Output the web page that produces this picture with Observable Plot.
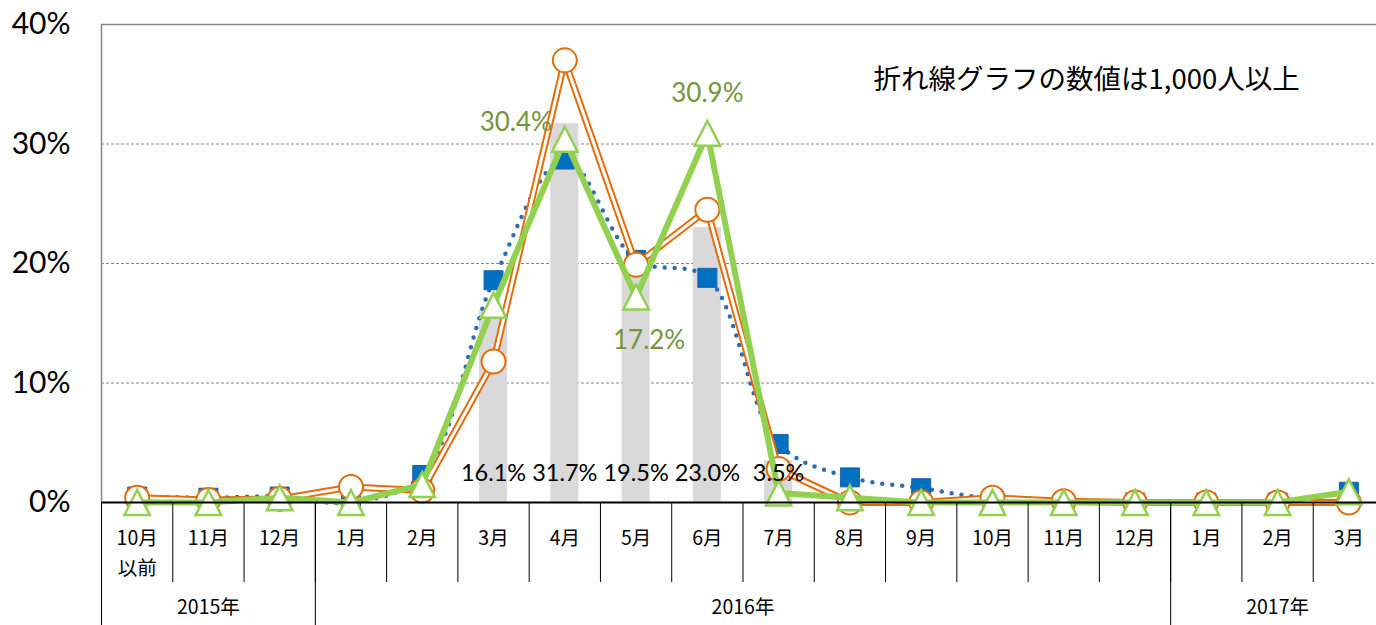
<!DOCTYPE html>
<html>
<head>
<meta charset="utf-8">
<script src="https://cdn.jsdelivr.net/npm/d3@7"></script>
<script src="https://cdn.jsdelivr.net/npm/@observablehq/plot@0.6"></script>
<style>
  html, body { margin: 0; padding: 0; background: #fff; }
  #chart svg { display: block; }
</style>
</head>
<body>
<div id="chart"></div>
<script>
// ---- data ----
const months = ["10月\n以前","11月","12月","1月","2月","3月","4月","5月","6月","7月","8月","9月","10月","11月","12月","1月","2月","3月"];
const years = ["2015年","2016年","2017年"];
const yearFirstIndex = [0, 3, 15];
const yearLastIndex = [2, 14, 17];
// blue squares (dotted smooth line)
const squareSeries = [0.5, 0.4, 0.5, 0.0, 2.3, 18.6, 28.7, 20.3, 18.8, 4.9, 2.1, 1.2, 0.3, 0.0, 0.0, 0.0, 0.0, 0.9];
// orange circles (double line)
const circleSeries = [0.4, 0.2, 0.3, 1.3, 1.0, 11.8, 37.0, 19.9, 24.5, 2.8, 0.0, 0.0, 0.4, 0.1, 0.0, 0.0, 0.0, 0.0];
// green triangles (thick line)
const triangleSeries = [0.0, 0.0, 0.4, 0.0, 1.5, 16.5, 30.4, 17.2, 30.9, 0.8, 0.4, 0.0, 0.0, 0.0, 0.0, 0.0, 0.0, 0.9];
// gray bars
const barIndex = [5, 6, 7, 8, 9];
const barValues = [16.1, 31.7, 19.5, 23.0, 3.5];
const yTicks = [0, 10, 20, 30, 40];
const note = "折れ線グラフの数値は1,000人以上";
const greenLabelIndex = [6, 7, 8];

// ---- derived tables ----
const rows = months.map((m, i) => ({i, a: squareSeries[i], b: circleSeries[i], c: triangleSeries[i]}));
const bars = barIndex.map((i, k) => ({i, v: barValues[k]}));
const monthBounds = d3.range(months.length + 1).map(k => k - 0.5);
const yearBounds = [yearFirstIndex[0] - 0.5, ...yearFirstIndex.slice(1).map(k => k - 0.5)];
const yearCenters = years.map((y, k) => ({label: y, x: (yearFirstIndex[k] + yearLastIndex[k]) / 2}));

const squareSym = {draw(ctx, size) { const r = Math.sqrt(size / Math.PI); ctx.rect(-r, -r, 2 * r, 2 * r); }};
const triSym = {draw(ctx, size) { const r = Math.sqrt(size / Math.PI); ctx.moveTo(0, -r); ctx.lineTo(r * 1.02, r); ctx.lineTo(-r * 1.02, r); ctx.closePath(); }};

const latin = "Lato, 'Open Sans', sans-serif";
const cjk = "'Noto Sans CJK JP', sans-serif";
const orange = "#e46c0a";
const green = "#92d050";
const blue = "#0070c0";

const labelOffsets = {6: [-49, -17], 7: [13, 44], 8: [0, -40]};

const greenLabels = greenLabelIndex.map(i =>
  Plot.text([rows[i]], {x: "i", y: "c", text: d => d.c.toFixed(1) + "%", dx: labelOffsets[i][0], dy: labelOffsets[i][1],
    fill: "#77933c", fontSize: 26, fontFamily: latin})
);

const chart = Plot.plot({
  width: 1376,
  height: 625,
  marginTop: 24,
  marginBottom: 123,
  marginLeft: 101,
  marginRight: 0,
  style: {background: "#fff", overflow: "visible"},
  x: {domain: [-0.5, 17.5], range: [101, 1384], label: null},
  y: {domain: [0, 40], range: [502, 24], label: null},
  marks: [
    Plot.ruleY([10, 20, 30], {stroke: "#868686", strokeDasharray: "3,2", strokeWidth: 1}),
    Plot.ruleY([40], {stroke: "#868686", strokeWidth: 1.5}),
    Plot.ruleX([-0.5], {stroke: "#868686", strokeWidth: 1.5}),
    Plot.rectY(bars, {x1: d => d.i - 0.5, x2: d => d.i + 0.5, y1: 0, y2: "v", insetLeft: 21.6, insetRight: 21.6, fill: "#d9d9d9"}),
    // blue dotted smooth line
    Plot.line(rows, {x: "i", y: "a", curve: "catmull-rom", stroke: "#2e6cb8", strokeWidth: 4.5, strokeDasharray: "0,10", strokeLinecap: "round"}),
    Plot.dot(rows, {x: "i", y: "a", symbol: squareSym, r: 9.5, fill: blue, stroke: "#1f5fa8", strokeWidth: 1}),
    // orange double line
    Plot.line(rows, {x: "i", y: "b", stroke: orange, strokeWidth: 7, strokeLinejoin: "miter"}),
    Plot.line(rows, {x: "i", y: "b", stroke: "#fff", strokeWidth: 3, strokeLinejoin: "miter"}),
    Plot.dot(rows, {x: "i", y: "b", r: 12, fill: "#fff", stroke: orange, strokeWidth: 2}),
    // green thick line
    Plot.line(rows, {x: "i", y: "c", stroke: green, strokeWidth: 6}),
    Plot.dot(rows, {x: "i", y: "c", symbol: triSym, r: 12.5, fill: "#fff", stroke: green, strokeWidth: 2.5}),
    ...greenLabels,
    // bar value labels
    Plot.text(bars, {x: "i", y: 0, dy: -29, text: d => d.v.toFixed(1) + "%", fill: "#000", fontSize: 23.5, fontFamily: latin}),
    // zero line
    Plot.ruleY([0], {stroke: "#000", strokeWidth: 2}),
    // y axis
    Plot.axisY(yTicks, {label: null, tickFormat: d => d + "%", tickSize: 0, tickPadding: 31, fontSize: 30, fontFamily: latin, fill: "#000"}),
    // category dividers
    Plot.axisX(monthBounds, {label: null, tickSize: 80, tickFormat: () => "", stroke: "#000", strokeWidth: 1}),
    Plot.axisX(yearBounds, {label: null, tickSize: 123, tickFormat: () => "", stroke: "#000", strokeWidth: 1}),
    // month labels
    Plot.axisX(d3.range(months.length), {label: null, tickSize: 0, tickPadding: 21, tickFormat: i => months[i], fontSize: 19.5, fontFamily: cjk, lineHeight: 1.55, fill: "#000"}),
    // year labels
    Plot.axisX(yearCenters.map(d => d.x), {label: null, tickSize: 0, tickPadding: 98, tickFormat: x => yearCenters.find(d => d.x === x).label, fontSize: 19.5, fontFamily: cjk, fill: "#000"}),
    // note
    Plot.text([note], {frameAnchor: "top-left", dx: 772, dy: 56, lineAnchor: "middle", textAnchor: "start", fontSize: 27.5, fontFamily: cjk, fill: "#000"})
  ]
});
document.getElementById("chart").appendChild(chart);
</script>
</body>
</html>
